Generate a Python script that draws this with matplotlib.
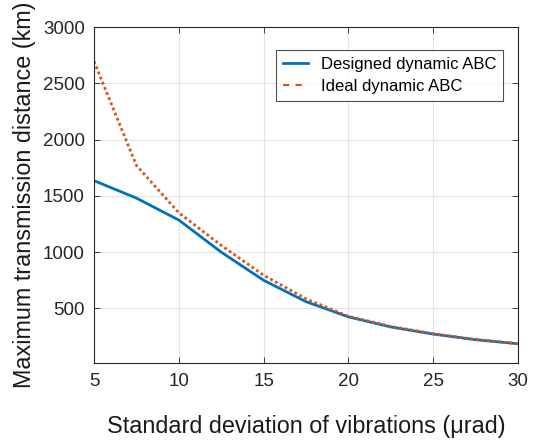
import matplotlib
matplotlib.use("Agg")
import matplotlib.pyplot as plt
from matplotlib.lines import Line2D

sigma = [5, 7.5, 10, 12.5, 15, 17.5, 20, 22.5, 25, 27.5, 30]
designed = [1635, 1480, 1285, 1000, 750, 560, 425, 335, 272, 222, 186]
ideal = [2695, 1770, 1350, 1060, 795, 585, 430, 340, 275, 224, 187]

xticks = [5, 10, 15, 20, 25, 30]
yticks = [500, 1000, 1500, 2000, 2500, 3000]

plt.rcParams['font.family'] = ['Liberation Sans', 'DejaVu Sans']

fig = plt.figure(figsize=(5.38, 4.41), dpi=100)
ax = fig.add_axes([94/538, 1 - 363/441, (518-94)/538, (363-27)/441])

blue = '#0072BD'
orange = '#D95319'
ax.plot(sigma, designed, color=blue, lw=2.0)
ax.plot(sigma, ideal, color=orange, lw=2.0, ls=(0, (1, 1)))

ax.set_xlim(5, 30)
ax.set_ylim(15, 3000)
ax.set_xticks(xticks)
ax.set_yticks(yticks)
ax.grid(True, color='#e3e3e3', lw=0.8)
ax.set_axisbelow(True)
for s in ax.spines.values():
    s.set_color('#262626')
    s.set_linewidth(0.8)
ax.tick_params(direction='in', length=4, width=0.6, labelsize=13.5, colors='#262626')
ax.tick_params(axis='x', pad=7)
ax.tick_params(axis='y', pad=6.5)
ax.tick_params(top=True, right=True)

ax.set_xlabel('Standard deviation of vibrations (μrad)', fontsize=16.8, labelpad=18, color='#1a1a1a')
ax.set_ylabel('Maximum transmission distance (km)', fontsize=16.8, labelpad=5, color='#1a1a1a')

handles = [Line2D([0], [0], color=blue, lw=2.0),
           Line2D([0], [0], color=orange, lw=1.5, ls=(0, (3, 3)))]
leg = ax.legend(handles, ['Designed dynamic ABC', 'Ideal dynamic ABC'], loc='upper right',
                bbox_to_anchor=(503/538, 1 - 50/441), bbox_transform=fig.transFigure,
                fontsize=12, frameon=True, fancybox=False,
                edgecolor='#262626', handlelength=1.5, handletextpad=0.8,
                borderpad=0.4, labelspacing=0.45, borderaxespad=0)
leg.get_frame().set_linewidth(0.8)

fig.savefig('out.png', dpi=100)
